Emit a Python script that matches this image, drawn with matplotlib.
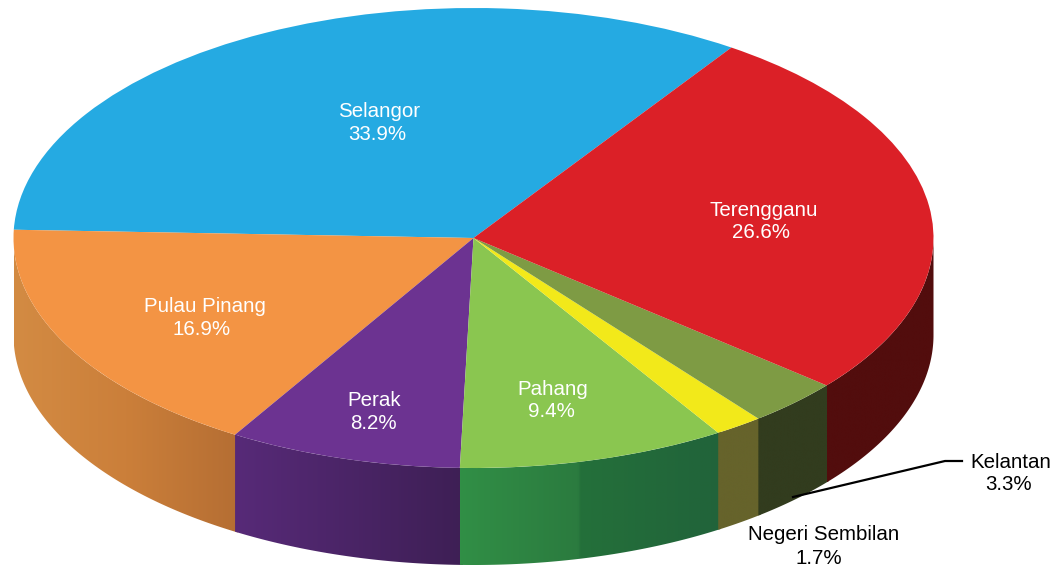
import numpy as np
import matplotlib
matplotlib.use('Agg')
import matplotlib.pyplot as plt
from matplotlib.colors import LinearSegmentedColormap
from matplotlib.patches import Polygon

states = ['Selangor', 'Pulau Pinang', 'Perak', 'Pahang', 'Negeri Sembilan', 'Kelantan', 'Terengganu']
shares = [33.9, 16.9, 8.2, 9.4, 1.7, 3.3, 26.6]

top_colors = ['#25AAE2', '#F39444', '#6C3391', '#8AC650', '#F2E91A', '#7E9B44', '#DB2027']
# side wall shading, left to right across each slice
wall_colors = [
    [(0, '#25AAE2'), (1, '#25AAE2')],
    [(0, '#D38B43'), (0.5, '#CB7F3A'), (1, '#B56E33')],
    [(0, '#572A78'), (1, '#3E1F55')],
    [(0, '#318F46'), (0.45, '#2B7B3F'), (0.46, '#24703A'), (1, '#21633A')],
    [(0, '#66632B'), (1, '#66632B')],
    [(0, '#323C1E'), (1, '#323C1E')],
    [(0, '#520D0D'), (1, '#520D0D')],
]

W, H = 1056, 568
CX, CY = 473.5, 238
RX, RY = 460, 230
DEPTH = 97 / RY
START = 55.9

plt.rcParams['font.family'] = ['Liberation Sans', 'DejaVu Sans']

fig = plt.figure(figsize=(W / 100, H / 100), dpi=100)
ax = fig.add_axes([0, 0, 1, 1])

# walls first so the top of the pie sits over them
edges = START + np.cumsum([0] + shares) * 3.6
grad = np.linspace(0, 1, 256).reshape(1, -1)
for i in range(len(shares)):
    a1 = max(edges[i], 180)
    a2 = min(edges[i + 1], 360)
    if a2 <= a1:
        continue
    cmap = LinearSegmentedColormap.from_list('w', wall_colors[i])
    # run a bit under the next slice so no white seam shows between walls
    angs = np.radians(np.linspace(a1, min(a2 + 0.4, 360), 120))
    xs = np.cos(angs)
    ys = np.sin(angs)
    outline = np.column_stack([np.r_[xs, xs[::-1]], np.r_[ys, ys[::-1] - DEPTH]])
    im = ax.imshow(grad, cmap=cmap, aspect='auto', vmin=0, vmax=1,
                   extent=(xs[0], xs[-1], ys.min() - DEPTH, ys.max()))
    im.set_clip_path(Polygon(outline, transform=ax.transData))

ax.pie(shares, colors=top_colors, startangle=START, counterclock=True, radius=1,
       wedgeprops={'linewidth': 0})
ax.set_aspect('auto')
ax.set_xlim((0 - CX) / RX, (W - CX) / RX)
ax.set_ylim((CY - H) / RY, CY / RY)
ax.axis('off')


def px_text(x, y, s, color='white'):
    fig.text(x / W, 1 - (y + 1) / H, s, color=color, fontsize=14.8, ha='center', va='center')


px_text(379, 110.5, 'Selangor')
px_text(377, 133.5, '33.9%')
px_text(764, 209.5, 'Terengganu')
px_text(761, 231.5, '26.6%')
px_text(205, 305.5, 'Pulau Pinang')
px_text(202, 328.5, '16.9%')
px_text(374, 399.5, 'Perak')
px_text(373, 422.5, '8.2%')
px_text(553, 388.5, 'Pahang')
px_text(551, 410.5, '9.4%')
px_text(1011, 461, 'Kelantan', 'black')
px_text(1009, 484, '3.3%', 'black')
px_text(824, 534, 'Negeri Sembilan', 'black')
px_text(819, 557, '1.7%', 'black')

# leader line for Kelantan
lx = (np.array([793, 945, 962]) - CX) / RX
ly = (CY - np.array([497, 461, 461])) / RY
ax.plot(lx, ly, color='black', linewidth=1.6, solid_joinstyle='round')

fig.savefig('out.png', dpi=100)
